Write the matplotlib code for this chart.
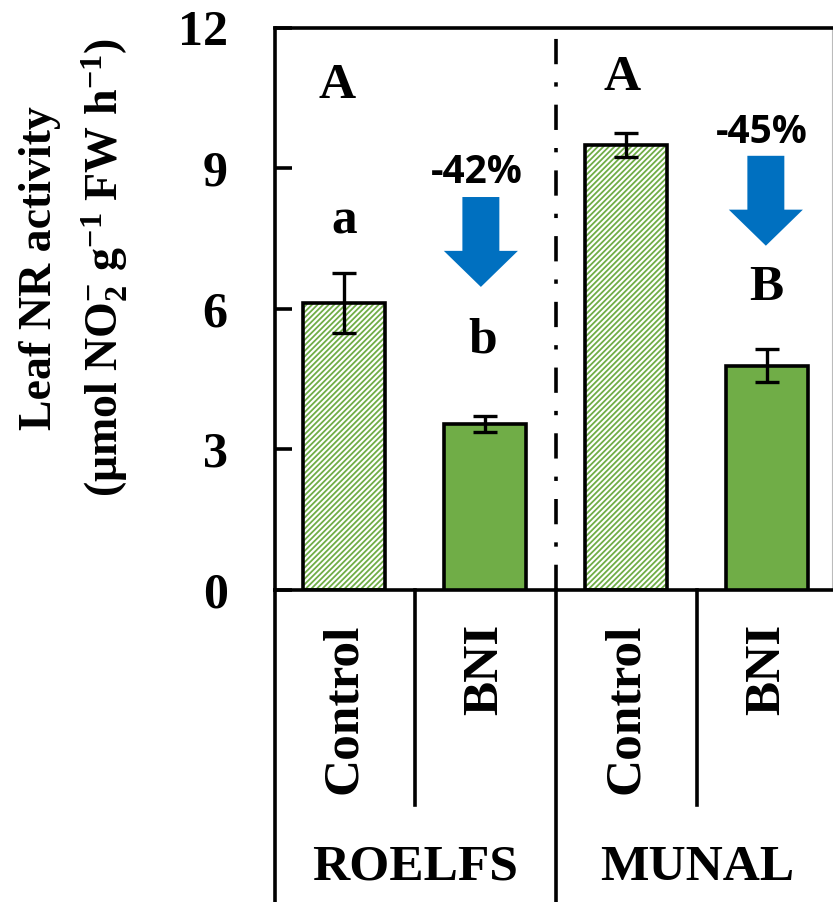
import matplotlib
matplotlib.use('Agg')
import matplotlib.pyplot as plt
from matplotlib.patches import FancyArrow

plt.rcParams['font.family'] = ['Liberation Serif', 'DejaVu Serif']
plt.rcParams['font.weight'] = 'bold'
plt.rcParams['mathtext.fontset'] = 'custom'
plt.rcParams['mathtext.rm'] = 'Liberation Serif:bold'
plt.rcParams['mathtext.it'] = 'Liberation Serif:bold'
plt.rcParams['mathtext.bf'] = 'Liberation Serif:bold'
plt.rcParams['hatch.linewidth'] = 1.3

# data
treatments = ['Control', 'BNI', 'Control', 'BNI']
cultivars = ['ROELFS', 'MUNAL']
nr_mean = [6.12, 3.54, 9.5, 4.79]
nr_err = [0.64, 0.17, 0.26, 0.36]
# significance letters: (x, baseline y, text)
sig_x = [-0.05, 0.0, 0.98, 1.97, 2.99]
sig_y = [10.5, 7.62, 5.08, 10.68, 6.19]
sig_txt = ['A', 'a', 'b', 'A', 'B']
pct_change = ['-42%', '-45%']
pct_y = [8.69, 9.55]
arrow_x = [0.97, 2.99]
arrow_top = [8.39, 9.27]
arrow_tip = [6.47, 7.35]

green = '#70AD47'
blue = '#0070C0'
lw = 2.6

fig = plt.figure(figsize=(8.33, 9.02), dpi=100)
ax = fig.add_axes([0.330, 0.346, 0.669, 0.623])

x = [0, 1, 2, 3]
w = 0.58
for i in x:
    if treatments[i] == 'Control':
        ax.bar(i, nr_mean[i], w, color='white', edgecolor=green, hatch='/' * 6, lw=0, zorder=2)
        ax.bar(i, nr_mean[i], w, fill=False, edgecolor='black', lw=lw, zorder=3)
    else:
        ax.bar(i, nr_mean[i], w, color=green, edgecolor='black', lw=lw, zorder=3)
ax.errorbar(x, nr_mean, yerr=nr_err, fmt='none', ecolor='black', elinewidth=2.4,
            capsize=8.5, capthick=2.4, zorder=4)

ax.set_xlim(-0.49, 3.46)
ax.set_ylim(0, 12)
ax.set_yticks([0, 3, 6, 9, 12])
ax.set_xticks([])
ax.tick_params(axis='y', direction='in', length=12, width=lw, labelsize=36, pad=34)
for s in ['left', 'top', 'bottom']:
    ax.spines[s].set_linewidth(lw)
ax.spines['right'].set_linewidth(0.8)
ax.spines['right'].set_color('#bbbbbb')

# cultivar separator
ax.axvline(1.5, color='black', lw=lw, ls=(0, (7, 5, 1.2, 5)), zorder=1)

# table below the axis
ax.plot([0, 0], [0, -0.56], color='black', lw=lw, transform=ax.transAxes, clip_on=False)
xt = ax.get_xaxis_transform()
ax.plot([1.5, 1.5], [0, -0.56], color='black', lw=lw, transform=xt, clip_on=False)
for xd in [0.5, 2.5]:
    ax.plot([xd, xd], [0, -0.383], color='black', lw=lw, transform=xt, clip_on=False)
for i in x:
    ax.text(i, -0.06, treatments[i], rotation=90, ha='center', va='top',
            fontsize=37, transform=xt)
for k, name in enumerate(cultivars):
    ax.text(0.5 + 2 * k, -0.516, name, ha='center', va='baseline', fontsize=37,
            transform=xt)

for xs, ys, t in zip(sig_x, sig_y, sig_txt):
    ax.text(xs, ys, t, ha='center', va='baseline', fontsize=37)

# reduction arrows
for k, xa in enumerate(arrow_x):
    ax.text(xa - 0.03, pct_y[k], pct_change[k], ha='center', va='baseline',
            fontsize=28, family='Open Sans', weight='bold')
    ax.add_patch(FancyArrow(xa, arrow_top[k], 0, arrow_tip[k] - arrow_top[k],
                            width=0.262, head_width=0.525, head_length=0.77,
                            length_includes_head=True, color=blue, lw=0, zorder=5))

fig.text(0.048, 1 - 268 / 902, 'Leaf NR activity', rotation=90, ha='center',
         va='center', fontsize=33)
fig.text(0.125, 1 - 268 / 902, '(μmol NO$_2^{-}$ g$^{-1}$ FW h$^{-1}$)', rotation=90,
         ha='center', va='center', fontsize=33)

fig.savefig('out.png', dpi=100)
